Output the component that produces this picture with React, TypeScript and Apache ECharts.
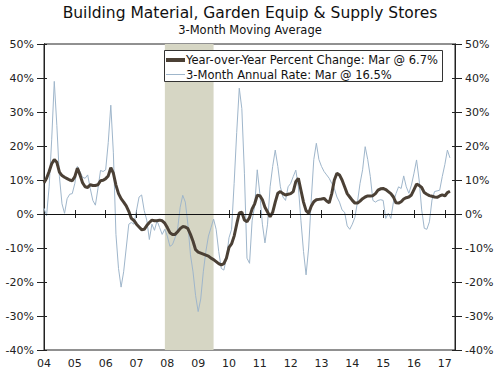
import React, { useEffect, useRef } from "react";
import * as echarts from "echarts";

const START_YEAR = 2004;
const yoyChange: number[] = [
  9.2, 10.5, 12.5, 14.8, 16.0, 15.2, 12.3, 11.3, 10.8, 10.4, 10.0, 9.8,
  11.0, 13.5, 11.5, 9.2, 8.0, 7.8, 8.6, 8.4, 8.4, 8.6, 9.8, 9.9,
  10.4, 11.2, 13.6, 12.0, 8.5, 6.0, 4.5, 3.5, 2.4, 0.8, -1.3, -1.9,
  -3.0, -3.8, -4.6, -4.5, -3.4, -2.5, -1.8, -2.0, -2.0, -1.8, -2.0, -2.7,
  -4.0, -5.5, -6.0, -6.0, -5.2, -4.3, -3.7, -3.8, -4.3, -6.0, -8.0, -10.5,
  -11.2, -11.5, -11.8, -12.1, -12.4, -13.0, -13.4, -14.0, -14.6, -15.0, -14.6, -13.0,
  -9.8, -8.8, -6.5, -3.0, 0.3, 0.5, -1.8, -2.3, -1.0, 1.5, 3.0, 5.5,
  5.4, 4.2, 2.0, 0.6, -0.8, 0.5, 3.5, 6.1, 6.6, 6.0, 5.6, 5.8,
  6.0, 6.6, 9.5, 10.5, 7.0, 3.5, 1.0, 0.2, 2.3, 3.6, 4.2, 4.3,
  4.4, 4.6, 3.8, 3.3, 6.0, 10.0, 12.0, 11.5, 10.0, 8.0, 6.0, 5.0,
  4.0, 3.2, 3.2, 3.8, 4.5, 5.0, 5.3, 5.3, 5.4, 6.0, 7.0, 7.4,
  7.5, 7.2, 6.6, 6.0, 5.0, 3.3, 3.2, 3.6, 4.4, 4.8, 5.0, 5.6,
  7.2, 8.8, 8.4, 7.8, 6.3, 5.8, 5.4, 5.2, 5.0, 4.9, 5.3, 5.6,
  5.3, 6.3, 6.7,
];
const annualRate3M: number[] = [
  1.7, -0.5, 8.0, 22.0, 39.0, 26.0, 11.0, 3.0, 0.2, 4.5, 5.8, 6.0,
  9.0, 14.0, 12.5, 10.8, 10.5, 11.5, 7.5, 4.0, 2.6, 7.5, 12.8, 12.5,
  13.0, 21.0, 32.0, 18.0, -6.0, -16.0, -21.5, -17.0, -10.0, -3.0, -2.5, -3.0,
  1.0, 5.0, 5.6, 1.0, -1.8, -7.5, -3.0, -4.8, -2.0, -4.0, -6.0, -4.5,
  -6.5, -9.5, -9.0, -7.0, -4.5, 2.0, 5.5, 3.5, -3.0, -12.0, -17.0, -24.0,
  -28.7, -25.0, -17.0, -11.0, -6.5, -4.0, -1.5, -4.5, -11.0, -16.0, -16.5, -13.0,
  -7.0, -4.5, 9.0, 24.0, 37.0, 31.0, 12.0, -13.0, -14.5, -2.0, 2.5, 13.0,
  6.0, -3.0, -8.5, -3.0, 8.0, 14.0, 18.8, 14.0, 8.0, 5.0, 4.0, 8.0,
  9.0, 11.0, 12.9, 8.0, -2.0, -11.0, -17.9, -10.0, 4.0, 16.0, 20.8, 16.0,
  14.0, 12.5, 11.5, 10.5, 9.0, 7.5, 5.0, 3.5, 1.2, 0.5, -3.5, -4.5,
  -3.0, -1.0, 3.5, 9.0, 13.0, 19.8, 16.0, 11.0, 4.0, 3.5, 4.0, 4.2,
  4.0, -1.3, 0.2, -1.3, 3.5, 6.0, 8.0, 7.5, 11.2, 8.0, 6.1, 8.5,
  12.0, 15.9, 10.0, 1.2, -4.2, -4.5, -2.3, 4.1, 6.6, 6.8, 7.0, 11.0,
  14.5, 18.8, 16.5,
];
const recession: [number, number] = [2007.92, 2009.5];
const yTicks = { min: -40, max: 50, interval: 10 };
const xRange = { min: 2004, max: 2017.33 };

const seriesNames = [
  "Year-over-Year Percent Change: Mar @ 6.7%",
  "3-Month Annual Rate: Mar @ 16.5%",
];
const DARK = "#4b4035";
const LIGHT = "#9fb6cb";
const FONT = "DejaVu Sans";

export default function App() {
  const ref = useRef<HTMLDivElement>(null);
  useEffect(() => {
    if (!ref.current) return;
    const chart = echarts.init(ref.current, undefined, { renderer: "svg" });
    const toPairs = (arr: number[]) => arr.map((v, i) => [START_YEAR + i / 12, v]);
    const yAxisBase = {
      type: "value" as const,
      min: yTicks.min,
      max: yTicks.max,
      interval: yTicks.interval,
      splitLine: { show: false },
      axisLine: { show: true, lineStyle: { color: "#222", width: 1 } },
    };
    const yLabel = {
      formatter: "{value}%",
      color: "#222",
      fontFamily: FONT,
      fontSize: 11,
      margin: 10,
    };
    const xBase = {
      type: "value" as const,
      min: xRange.min,
      max: xRange.max,
      interval: 1,
      splitLine: { show: false },
      axisLine: { show: true, lineStyle: { color: "#222" } },
    };
    const LZ = 100;
    chart.setOption({
      animation: false,
      backgroundColor: "#fff",
      title: [
        {
          text: "Building Material, Garden Equip & Supply Stores",
          left: "center",
          top: 0,
          textStyle: { fontFamily: FONT, fontSize: 15.5, fontWeight: "normal", color: "#111" },
        },
        {
          text: "3-Month Moving Average",
          left: "center",
          top: 19,
          textStyle: { fontFamily: FONT, fontSize: 11.5, fontWeight: "normal", color: "#111" },
        },
      ],
      grid: { left: 44, right: 45, top: 44, bottom: 21, show: true, borderColor: "#222", borderWidth: 1 },
      xAxis: [
        {
          ...xBase,
          axisTick: { show: true, length: 4, lineStyle: { color: "#222" } },
          axisLabel: {
            formatter: (v: number) =>
              Math.abs(v - Math.round(v)) < 1e-6 ? String(Math.round(v) % 100).padStart(2, "0") : "",
            color: "#222",
            fontFamily: FONT,
            fontSize: 11,
            margin: 8,
          },
        },
        {
          ...xBase,
          position: "bottom",
          axisTick: { show: true, inside: true, length: 4, lineStyle: { color: "#222" } },
          axisLabel: { show: false },
        },
      ],
      yAxis: [
        { ...yAxisBase, position: "left", axisTick: { show: true, length: 7, lineStyle: { color: "#222" } }, axisLabel: yLabel },
        { ...yAxisBase, position: "right", axisTick: { show: true, length: 7, lineStyle: { color: "#222" } }, axisLabel: yLabel },
        { ...yAxisBase, position: "left", axisTick: { show: true, inside: true, length: 3, lineStyle: { color: "#222" } }, axisLabel: { show: false } },
        { ...yAxisBase, position: "right", axisTick: { show: true, inside: true, length: 3, lineStyle: { color: "#222" } }, axisLabel: { show: false } },
      ],
      graphic: [
        { type: "rect", z: LZ, shape: { x: 164.5, y: 50.5, width: 278, height: 31 }, style: { fill: "#fff", stroke: "#333", lineWidth: 1 } },
        { type: "line", z: LZ + 1, shape: { x1: 166, y1: 60, x2: 185, y2: 60 }, style: { stroke: DARK, lineWidth: 4 } },
        { type: "line", z: LZ + 1, shape: { x1: 166, y1: 74.5, x2: 185, y2: 74.5 }, style: { stroke: LIGHT, lineWidth: 1 } },
        {
          type: "text",
          z: LZ + 1,
          x: 186,
          y: 60,
          style: { text: seriesNames[0], fontFamily: FONT, fontSize: 11.5, fill: "#111", verticalAlign: "middle" },
        },
        {
          type: "text",
          z: LZ + 1,
          x: 186,
          y: 75,
          style: { text: seriesNames[1], fontFamily: FONT, fontSize: 11.5, fill: "#111", verticalAlign: "middle" },
        },
      ],
      series: [
        {
          name: seriesNames[1],
          type: "line",
          data: toPairs(annualRate3M),
          symbol: "none",
          lineStyle: { color: LIGHT, width: 1 },
          itemStyle: { color: LIGHT },
          z: 3,
          markArea: {
            silent: true,
            itemStyle: { color: "#d6d6c4" },
            data: [[{ xAxis: recession[0] }, { xAxis: recession[1] }]],
          },
          markLine: {
            silent: true,
            symbol: "none",
            label: { show: false },
            lineStyle: { color: "#111", width: 1, type: "solid" },
            data: [{ yAxis: 0 }],
          },
        },
        {
          name: seriesNames[0],
          type: "line",
          data: toPairs(yoyChange),
          symbol: "none",
          lineStyle: { color: DARK, width: 3 },
          itemStyle: { color: DARK },
          z: 4,
        },
      ],
    });
    return () => chart.dispose();
  }, []);
  return <div ref={ref} style={{ width: 500, height: 371, position: "absolute", left: 0, top: 0 }} />;
}
